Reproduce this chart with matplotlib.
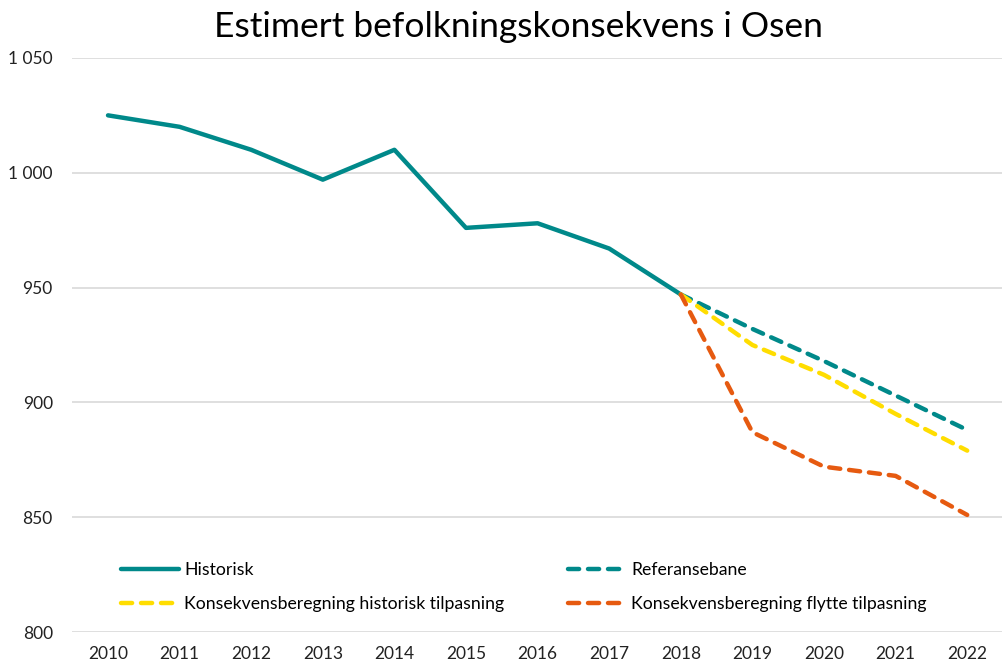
import matplotlib.pyplot as plt
from matplotlib.ticker import FuncFormatter

plt.rcParams['font.family'] = ['Lato', 'DejaVu Sans']

years = [str(y) for y in range(2010, 2023)]
historisk = [1025, 1020, 1010, 997, 1010, 976, 978, 967, 947]
referanse = [947, 932, 918, 903, 888]
hist_tilpasning = [947, 925, 912, 895, 879]
flytte_tilpasning = [947, 887, 872, 868, 851]

teal = '#00898a'
yellow = '#ffdd00'
orange = '#e65a10'

fig = plt.figure(figsize=(10.03, 6.66), dpi=100)
ax = fig.add_axes([0.072, 0.051, 0.928, 0.862])

x_hist = list(range(len(historisk)))
x_prog = list(range(8, 13))

h1, = ax.plot(x_hist, historisk, color=teal, lw=3.2, solid_capstyle='round',
              label='Historisk')
h2, = ax.plot(x_prog, referanse, color=teal, lw=3.2, ls=(0, (2.5, 2)),
              dash_capstyle='round', label='Referansebane')
h3, = ax.plot(x_prog, hist_tilpasning, color=yellow, lw=3.2, ls=(0, (2.5, 2)),
              dash_capstyle='round',
              label='Konsekvensberegning historisk tilpasning')
h4, = ax.plot(x_prog, flytte_tilpasning, color=orange, lw=3.2,
              ls=(0, (2.5, 2)), dash_capstyle='round',
              label='Konsekvensberegning flytte tilpasning')

ax.set_xlim(-0.5, 12.5)
ax.set_ylim(800, 1050)
ax.set_xticks(range(len(years)))
ax.set_xticklabels(years)
ax.set_yticks(range(800, 1051, 50))
ax.yaxis.set_major_formatter(
    FuncFormatter(lambda v, p: f'{int(v):,}'.replace(',', ' ')))
ax.tick_params(axis='both', length=0, labelsize=12.5, colors='#222222')
ax.tick_params(axis='x', pad=10)
ax.tick_params(axis='y', pad=14)
ax.grid(axis='y', color='#d9d9d9', lw=1.2)
ax.set_axisbelow(True)
for s in ax.spines.values():
    s.set_visible(False)

ax.legend(handles=[h1, h3, h2, h4], ncol=2, loc='upper left',
          bbox_to_anchor=(0.035, 0.15), frameon=False, fontsize=12.7,
          handlelength=3.3, handletextpad=0.3, columnspacing=3.6,
          labelspacing=1.05)

fig.text(0.517, 0.96, 'Estimert befolkningskonsekvens i Osen',
         ha='center', va='center', fontsize=25.5)

fig.savefig('out.png', dpi=100)
